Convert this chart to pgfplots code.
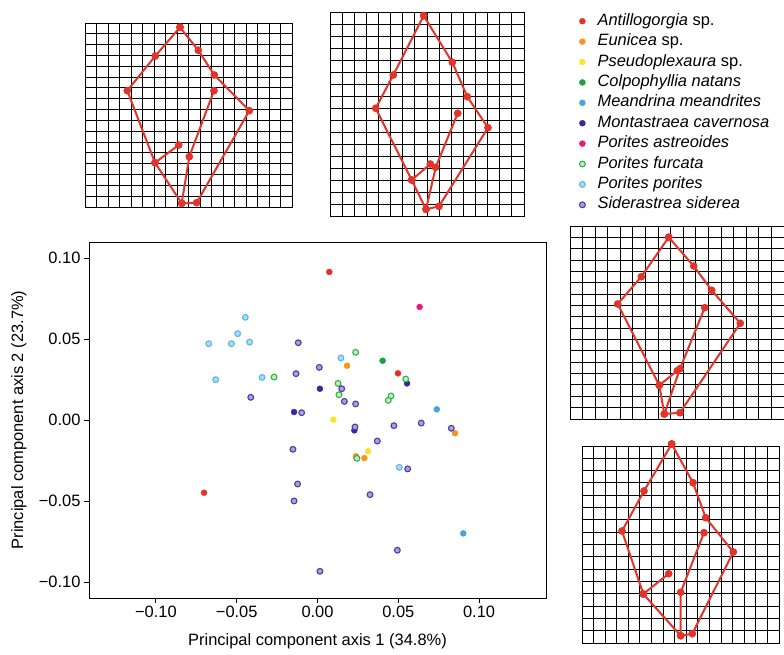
\documentclass[border=0pt]{standalone}
\usepackage{fontspec}
\setmainfont{Liberation Sans}
\usepackage{pgfplots}
\pgfplotsset{compat=1.18}
\definecolor{cAnt}{HTML}{E5302A}
\definecolor{cEun}{HTML}{F7941E}
\definecolor{cPse}{HTML}{FBE232}
\definecolor{cCol}{HTML}{1FA03F}
\definecolor{cMea}{HTML}{4AA3DB}
\definecolor{cMon}{HTML}{37299A}
\definecolor{cAst}{HTML}{E6197F}
\definecolor{cFurE}{HTML}{33B14A}
\definecolor{cFurF}{HTML}{C4EBC9}
\definecolor{cPorE}{HTML}{5BB7E6}
\definecolor{cPorF}{HTML}{A9DDF5}
\definecolor{cSidE}{HTML}{4B3FA0}
\definecolor{cSidF}{HTML}{A9A1D8}
\definecolor{cPoly}{HTML}{E3342A}
\newcommand{\lf}{\fontsize{16.5}{19}\selectfont}
\pgfplotsset{
  solidpt/.style={only marks, mark=*, mark size=3bp, color=#1},
  openpt/.style 2 args={only marks, mark=*, mark size=2.9bp, mark options={draw=#1, fill=#2, line width=1.1bp}},
  gridax/.style={scale only axis, y dir=reverse, clip=false, anchor=north west,
    axis line style={black, line width=0.9bp}, grid=major,
    major grid style={black, line width=0.9bp},
    xticklabels={}, yticklabels={}, major tick length=0pt},
  poly/.style={color=cPoly, line width=2bp, mark=*, mark size=2.8bp},
}
\begin{document}
\begin{tikzpicture}
\useasboundingbox (0,0) rectangle (784bp,655bp);
% ---------------- main scatter ----------------
\begin{axis}[
  at={(89bp,57bp)}, anchor=south west, scale only axis,
  width=457bp, height=356bp,
  xmin=-0.1414, xmax=0.1414, ymin=-0.1099, ymax=0.1099,
  axis line style={black, line width=0.9bp},
  tick align=outside, tick pos=left, major tick length=5bp,
  tick style={black, line width=0.9bp},
  xtick={-0.1,-0.05,0,0.05,0.1},
  xticklabels={−0.10,−0.05,0.00,0.05,0.10},
  ytick={-0.1,-0.05,0,0.05,0.1},
  yticklabels={−0.10,−0.05,0.00,0.05,0.10},
  tick label style={font=\lf},
  xlabel={Principal component axis 1 (34.8\%)},
  ylabel={Principal component axis 2 (23.7\%)},
  label style={font=\lf},
  xlabel style={at={(axis description cs:0.5,-0.1348)}, anchor=base},
  ylabel style={at={(axis description cs:-0.1444,0.5)}, anchor=base},
  legend cell align=left,
  legend image code/.code={\path (0bp,0bp) (18bp,0bp); \draw[#1] plot coordinates {(4bp,0bp)};},
  legend style={at={(axis description cs:1.070,1.646)}, anchor=north west,
    draw=none, fill=none, font=\lf, inner sep=0pt, row sep=2.4bp,
    nodes={inner sep=1bp, text height=12bp, text depth=4bp}},
]
\addplot[solidpt=cAnt] table {
x y
0.0073 0.0914
0.0498 0.0288
-0.0702 -0.0449
};
\addlegendentry{\textit{Antillogorgia} sp.}
\addplot[solidpt=cEun] table {
x y
0.0183 0.0335
0.0851 -0.0082
0.0238 -0.0224
0.0290 -0.0235
};
\addlegendentry{\textit{Eunicea} sp.}
\addplot[solidpt=cPse] table {
x y
0.0098 0.0002
0.0313 -0.0193
};
\addlegendentry{\textit{Pseudoplexaura} sp.}
\addplot[solidpt=cCol] table {
x y
0.0403 0.0366
};
\addlegendentry{\textit{Colpophyllia natans}}
\addplot[solidpt=cMea] table {
x y
0.0738 0.0066
0.0902 -0.0700
};
\addlegendentry{\textit{Meandrina meandrites}}
\addplot[solidpt=cMon] table {
x y
-0.0145 0.0049
0.0015 0.0193
0.0554 0.0226
0.0228 -0.0064
};
\addlegendentry{\textit{Montastraea cavernosa}}
\addplot[solidpt=cAst] table {
x y
0.0632 0.0698
};
\addlegendentry{\textit{Porites astreoides}}
\addplot[openpt={cFurE}{cFurF}] table {
x y
-0.0269 0.0265
0.0236 0.0418
0.0546 0.0253
0.0127 0.0226
0.0133 0.0156
0.0455 0.0148
0.0438 0.0121
0.0244 -0.0237
};
\addlegendentry{\textit{Porites furcata}}
\addplot[openpt={cPorE}{cPorF}] table {
x y
-0.0673 0.0471
-0.0630 0.0249
-0.0533 0.0471
-0.0494 0.0533
-0.0447 0.0634
-0.0420 0.0481
-0.0343 0.0263
0.0145 0.0383
0.0506 -0.0292
};
\addlegendentry{\textit{Porites porites}}
\addplot[openpt={cSidE}{cSidF}] table {
x y
-0.0119 0.0477
-0.0133 0.0286
-0.0413 0.0140
-0.0098 0.0045
0.0011 0.0325
0.0150 0.0193
0.0166 0.0115
0.0236 0.0099
0.0232 -0.0043
0.0473 -0.0035
0.0642 -0.0019
0.0828 -0.0051
0.0370 -0.0130
-0.0152 -0.0181
0.0558 -0.0302
-0.0123 -0.0395
-0.0145 -0.0500
0.0325 -0.0461
0.0494 -0.0804
0.0015 -0.0934
};
\addlegendentry{\textit{Siderastrea siderea}}
\end{axis}
% ---------------- deformation grid 1 (top left) ----------------
\begin{axis}[gridax, at={(85bp,632bp)}, width=207bp, height=184bp,
  xmin=85, xmax=292, ymin=23, ymax=207,
  xtick={85,96.5,...,292}, ytick={23,33.824,...,207}]
\addplot[poly] coordinates {(180,27.3) (155.3,56) (127.3,90.7) (155,162.7) (181.7,203.3) (196.7,202.7) (249.3,110.7) (214.3,75) (198.3,50.3) (180,27.3)};
\addplot[poly] coordinates {(155,162.7) (178.7,145)};
\addplot[poly] coordinates {(181.7,203.3) (189.3,156.7) (214,90.7)};
\end{axis}
% ---------------- deformation grid 2 (top middle) ----------------
\begin{axis}[gridax, at={(330bp,643bp)}, width=194bp, height=204bp,
  xmin=330, xmax=524, ymin=12, ymax=216,
  xtick={330,342.125,...,524}, ytick={12,24,...,216}]
\addplot[poly] coordinates {(423.7,15.7) (393.3,75) (375.7,108.3) (411.7,180) (426,209.3) (439,206.3) (488,127.7) (467.3,96.7) (452.3,62.3) (423.7,15.7)};
\addplot[poly] coordinates {(411.7,180) (430.3,164)};
\addplot[poly] coordinates {(426,209.3) (435.7,167.3) (457.7,113.3)};
\end{axis}
% ---------------- deformation grid 3 (right middle) ----------------
\begin{axis}[gridax, at={(570bp,429bp)}, width=214bp, height=193bp,
  xmin=570, xmax=784, ymin=226, ymax=419,
  xtick={570,582.588,...,784}, ytick={226,237.353,...,419}]
\addplot[poly] coordinates {(668.7,237.3) (641.3,276.7) (617.7,304) (659.3,385.3) (664.3,414) (680,412.7) (740.3,323.3) (711.7,290.3) (693.7,266) (668.7,237.3)};
\addplot[poly] coordinates {(659.3,385.3) (677.3,370.7)};
\addplot[poly] coordinates {(664.3,414) (680,368.7) (704.7,307.7)};
\end{axis}
% ---------------- deformation grid 4 (right bottom) ----------------
\begin{axis}[gridax, at={(582bp,209bp)}, width=197bp, height=197bp,
  xmin=582, xmax=779, ymin=446, ymax=643,
  xtick={582,593.588,...,779}, ytick={446,458.3125,...,643}]
\addplot[poly] coordinates {(671.7,444) (644,491) (622,531) (643.3,594) (680.7,635.7) (692.3,633.7) (733.3,552) (705.7,517.7) (693,482.7) (671.7,444)};
\addplot[poly] coordinates {(643.3,594) (668.7,573.7)};
\addplot[poly] coordinates {(680.7,635.7) (680.7,592.3) (704,532.7)};
\end{axis}
\end{tikzpicture}
\end{document}
